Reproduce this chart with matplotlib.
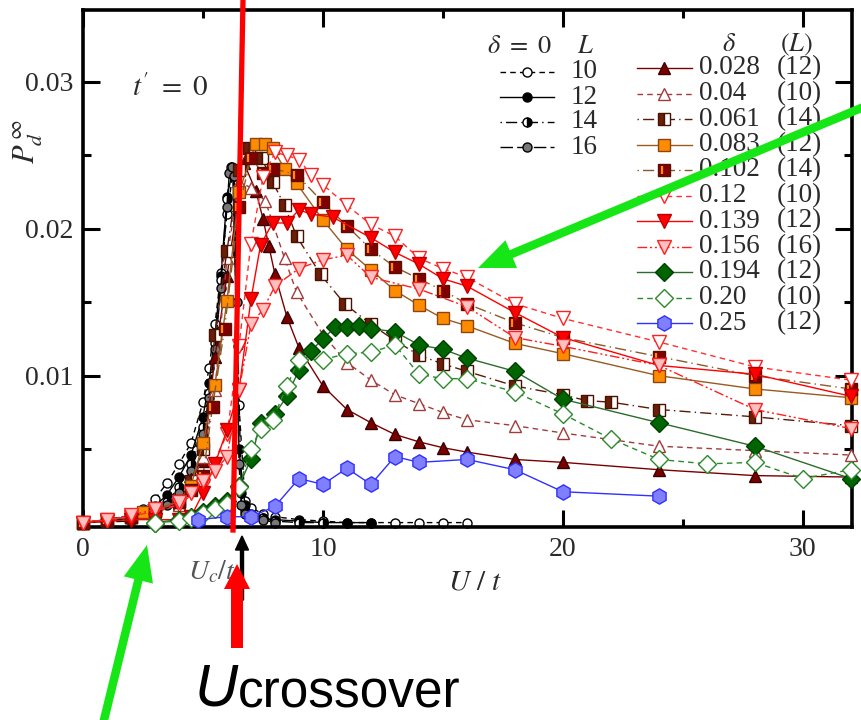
import matplotlib
matplotlib.use('Agg')
import matplotlib.pyplot as plt
import matplotlib.transforms as mtransforms
from matplotlib.lines import Line2D
from matplotlib.patches import FancyArrow

plt.rcParams['font.family'] = 'Liberation Serif'
plt.rcParams['mathtext.fontset'] = 'stix'

# ---- pair amplitude P_d^inf vs U/t ----
# delta = 0, clean system, several lattice sizes
u_L10 = [0, 1, 2, 2.5, 3, 3.5, 4, 4.5, 5, 5.25, 5.5, 5.75, 6, 6.25, 6.5, 6.75, 7, 7.5, 8, 9, 10, 11, 12, 13, 14, 15, 16]
p_L10 = [0, 0.0002, 0.0005, 0.0009, 0.0016, 0.0027, 0.0040, 0.0054, 0.0082, 0.0105, 0.0135, 0.0170, 0.0210, 0.0238, 0.0080, 0.0015, 0.0010, 0.0006, 0.0004, 0.0002, 0.0001, 0, 0, 0, 0, 0, 0]
u_L12 = [0, 1, 2, 3, 3.5, 4, 4.5, 5, 5.25, 5.5, 5.75, 6, 6.25, 6.5, 6.75, 7, 7.5, 8, 9, 10, 11, 12]
p_L12 = [0, 0.0001, 0.0003, 0.0011, 0.0019, 0.0031, 0.0046, 0.0072, 0.0095, 0.0128, 0.0168, 0.0222, 0.0240, 0.0050, 0.0012, 0.0006, 0.0003, 0.0002, 0.0001, 0, 0, 0]
u_L14 = [0, 2, 3, 3.5, 4, 4.5, 5, 5.25, 5.5, 5.75, 6, 6.15, 6.3, 6.45, 6.6, 6.75, 7, 7.5, 8, 9, 10]
p_L14 = [0, 0.0002, 0.0008, 0.0014, 0.0024, 0.0040, 0.0065, 0.0088, 0.0122, 0.0165, 0.0220, 0.0242, 0.0236, 0.0120, 0.0020, 0.0008, 0.0005, 0.0003, 0.0001, 0, 0]
u_L16 = [0, 2, 3, 3.5, 4, 4.5, 5, 5.25, 5.5, 5.75, 6, 6.1, 6.2, 6.3, 6.4, 6.5, 6.6, 6.75, 7, 7.5, 8]
p_L16 = [0, 0.0001, 0.0006, 0.0012, 0.0020, 0.0035, 0.0060, 0.0085, 0.0118, 0.0160, 0.0215, 0.0238, 0.0242, 0.0236, 0.0150, 0.0040, 0.0012, 0.0006, 0.0003, 0.0002, 0]
sizes_clean = ['10', '12', '14', '16']

# doped systems
u_028 = [0, 1, 2, 3, 4, 4.5, 5, 5.5, 6, 6.7, 7.2, 7.5, 7.75, 8, 8.5, 9, 10, 11, 12, 13, 14, 15, 16, 18, 20, 24, 28, 32]
p_028 = [0, 0.0002, 0.0004, 0.0007, 0.0013, 0.0030, 0.0042, 0.0113, 0.0168, 0.0245, 0.0226, 0.0207, 0.0188, 0.0169, 0.0140, 0.0119, 0.0093, 0.0077, 0.0068, 0.0060, 0.0055, 0.0051, 0.0048, 0.0043, 0.0041, 0.0036, 0.0032, 0.0031]
u_04 = [0, 1, 2, 3, 4, 4.5, 5, 5.5, 6, 6.5, 7, 7.6, 8.4, 8.9, 10, 11, 12, 13, 14, 15, 16, 18, 20, 24, 28, 32]
p_04 = [0, 0.0002, 0.0004, 0.0007, 0.0012, 0.0025, 0.0045, 0.0090, 0.0180, 0.0232, 0.0228, 0.0219, 0.0180, 0.0157, 0.0128, 0.0109, 0.0097, 0.0087, 0.0081, 0.0075, 0.0070, 0.0066, 0.0061, 0.0052, 0.0049, 0.0046]
u_061 = [0, 1, 2, 3, 4, 4.5, 5, 5.5, 6, 6.5, 6.9, 7.45, 7.9, 8.4, 8.9, 9.9, 10.9, 12, 13, 14, 15, 16, 18, 20, 21, 22, 24, 28, 32]
p_061 = [0, 0.0002, 0.0004, 0.0008, 0.0014, 0.0028, 0.0050, 0.0128, 0.0185, 0.0240, 0.0255, 0.0248, 0.0232, 0.0216, 0.0195, 0.0169, 0.0149, 0.0135, 0.0124, 0.0114, 0.0108, 0.0103, 0.0093, 0.0087, 0.0083, 0.0082, 0.0077, 0.0072, 0.0066]
u_083 = [0, 1, 2, 2.5, 3, 4, 4.5, 5, 5.5, 6, 6.5, 7.2, 7.6, 7.9, 8.4, 8.9, 10, 11, 12, 13, 14, 15, 16, 18, 20, 24, 28, 32]
p_083 = [0, 0.0002, 0.0004, 0.0007, 0.0008, 0.0015, 0.0025, 0.0054, 0.0094, 0.0151, 0.0225, 0.0258, 0.0258, 0.0255, 0.0241, 0.0231, 0.0206, 0.0186, 0.0172, 0.0158, 0.0148, 0.0139, 0.0134, 0.0122, 0.0115, 0.0100, 0.0091, 0.0085]
u_102 = [0, 1, 2, 3, 4, 4.5, 5, 5.4, 5.9, 6.5, 7.0, 7.5, 7.9, 8.9, 10, 11, 12, 13, 14, 15, 16, 18, 20, 24, 28, 32]
p_102 = [0, 0.0002, 0.0004, 0.0008, 0.0015, 0.0022, 0.0032, 0.0079, 0.0132, 0.0215, 0.0248, 0.0238, 0.0241, 0.0237, 0.0218, 0.0202, 0.0186, 0.0174, 0.0166, 0.0158, 0.0149, 0.0136, 0.0126, 0.0113, 0.0100, 0.0091]
u_12 = [0, 1, 2, 3, 4, 5, 6, 6.5, 7, 7.5, 8, 8.5, 9, 9.5, 10, 11, 12, 13, 14, 15, 16, 18, 20, 24, 28, 32]
p_12 = [0, 0.0002, 0.0004, 0.0008, 0.0012, 0.0025, 0.0060, 0.0120, 0.0190, 0.0235, 0.0252, 0.0250, 0.0247, 0.0237, 0.0230, 0.0216, 0.0203, 0.0195, 0.0180, 0.0173, 0.0167, 0.0149, 0.0139, 0.0123, 0.0106, 0.0097]
u_139 = [0, 1, 2, 3, 4, 4.5, 5, 5.5, 6, 6.5, 7, 7.4, 7.9, 8.5, 9, 9.5, 10.4, 12, 13, 14, 15, 16, 18, 20, 24, 28, 32]
p_139 = [0, 0.0001, 0.0002, 0.0002, 0.0002, 0.0004, 0.0020, 0.0040, 0.0063, 0.0090, 0.0152, 0.0189, 0.0204, 0.0204, 0.0213, 0.0210, 0.0208, 0.0194, 0.0184, 0.0176, 0.0166, 0.0161, 0.0143, 0.0126, 0.0107, 0.0101, 0.0086]
u_156 = [0, 1, 2, 3, 4, 4.5, 5, 5.5, 6, 6.5, 7, 7.5, 8, 9, 10, 11, 12, 14, 16, 18, 20, 24, 28, 32]
p_156 = [0, 0.0002, 0.0005, 0.0009, 0.0014, 0.0020, 0.0028, 0.0035, 0.0045, 0.0090, 0.0135, 0.0145, 0.0161, 0.0173, 0.0179, 0.0182, 0.0167, 0.0159, 0.0147, 0.0126, 0.0120, 0.0107, 0.0077, 0.0064]
u_194 = [3, 4, 4.5, 5, 5.5, 6, 6.5, 7, 7.4, 8, 8.5, 9, 9.5, 10, 10.5, 11, 11.5, 12, 13, 14, 15, 16, 18, 20, 24, 28, 32]
p_194 = [0, 0.0002, 0.0004, 0.0007, 0.0011, 0.0015, 0.0025, 0.0043, 0.0068, 0.0074, 0.0086, 0.0104, 0.0117, 0.0125, 0.0133, 0.0133, 0.0134, 0.0132, 0.0130, 0.0121, 0.0118, 0.0112, 0.0103, 0.0084, 0.0068, 0.0052, 0.0030]
u_20 = [3, 4, 4.5, 5, 5.5, 6, 6.5, 7, 7.4, 7.9, 8.5, 9, 10, 11, 12, 13, 14, 15, 16, 18, 20, 22, 24, 26, 28, 30, 32]
p_20 = [0, 0.0001, 0.0003, 0.0006, 0.0009, 0.0013, 0.0024, 0.0050, 0.0064, 0.0070, 0.0093, 0.0111, 0.0111, 0.0115, 0.0116, 0.0121, 0.0101, 0.0098, 0.0098, 0.0089, 0.0074, 0.0057, 0.0043, 0.0040, 0.0041, 0.0030, 0.0036]
u_25 = [4.8, 6, 7, 8, 9, 10, 11, 12, 13, 14, 16, 18, 20, 24]
p_25 = [0.0002, 0.0004, 0.0004, 0.0011, 0.0030, 0.0026, 0.0037, 0.0026, 0.0045, 0.0041, 0.0043, 0.0036, 0.0021, 0.0018]
deltas = ['0.028', '0.04', '0.061', '0.083', '0.102', '0.12', '0.139', '0.156', '0.194', '0.20', '0.25']
sizes_doped = ['(12)', '(10)', '(14)', '(12)', '(14)', '(10)', '(12)', '(16)', '(12)', '(10)', '(12)']

clean = [
    (u_L10, p_L10, dict(color='k', ls=(0, (4, 3)), marker='o', ms=6.5, mfc='white', mec='k')),
    (u_L12, p_L12, dict(color='k', ls='-', marker='o', ms=6.5, mfc='k', mec='k')),
    (u_L14, p_L14, dict(color='k', ls=(0, (1, 3, 8, 3)), marker='o', ms=6.5, mfc='k', mec='k',
                        fillstyle='right', markerfacecoloralt='white')),
    (u_L16, p_L16, dict(color='k', ls=(0, (9, 3)), marker='o', ms=6.5, mfc='#777777', mec='k')),
]
doped = [
    (u_028, p_028, dict(color='#7a0000', ls='-', marker='^', ms=9, mfc='#7a0000', mec='#3a0000')),
    (u_04, p_04, dict(color='#a03c3c', ls=(0, (4, 3)), marker='^', ms=9, mfc='white', mec='#a03c3c')),
    (u_061, p_061, dict(color='#5a1a08', ls=(0, (1, 3, 8, 3)), marker='s', ms=8, mfc='#6a2008', mec='#4a1000',
                        fillstyle='left', markerfacecoloralt='white')),
    (u_083, p_083, dict(color='#9a5a20', ls='-', marker='s', ms=8, mfc='#ff8c00', mec='#8b4513')),
    (u_102, p_102, dict(color='#8b5a2b', ls=(0, (1, 3, 8, 3)), marker='s', ms=8, mfc='#800000', mec='#5a1000')),
    (u_12, p_12, dict(color='#ff3030', ls=(0, (4, 3)), marker='v', ms=10, mfc='white', mec='#ff2020')),
    (u_139, p_139, dict(color='#ff0000', ls='-', marker='v', ms=10, mfc='#ff0000', mec='#c00000')),
    (u_156, p_156, dict(color='#ff2020', ls=(0, (7, 2, 1.5, 2, 1.5, 2)), marker='v', ms=10, mfc='#ffc0c0', mec='#ff2020')),
    (u_194, p_194, dict(color='#2e6b2e', ls='-', marker='D', ms=9.5, mfc='#006400', mec='#004000')),
    (u_20, p_20, dict(color='#2a8a2a', ls=(0, (4, 3)), marker='D', ms=9.5, mfc='white', mec='#2a8a2a')),
    (u_25, p_25, dict(color='#3030ff', ls='-', marker='h', ms=11, mfc='#8080ff', mec='#3030ff')),
]

W, H = 862, 720
fig = plt.figure(figsize=(W / 100, H / 100), dpi=100)
ax = fig.add_axes([83 / W, 1 - 527 / H, 769 / W, 517 / H])


def apx(x, y):
    # pixel position -> axes fraction
    return (x - 83) / 769.0, (527 - y) / 517.0


def inch(x, y):
    # pixel position -> figure inches (origin bottom-left)
    return x / 100.0, (H - y) / 100.0


stripe_data = mtransforms.offset_copy(ax.transData, fig=fig, x=-2.5, y=0, units='dots')
stripe_axes = mtransforms.offset_copy(ax.transAxes, fig=fig, x=-2.5, y=0, units='dots')

for u, p, st in clean:
    ax.plot(u, p, lw=1.0, mew=1.0, clip_on=False, zorder=2, **st)
for i, (u, p, st) in enumerate(doped):
    ax.plot(u, p, lw=1.0, mew=1.0, clip_on=False, zorder=3, **st)
    if deltas[i] == '0.102':
        ax.plot(u, p, ls='none', marker='|', ms=6, mew=1.6, color='#ff8c00',
                transform=stripe_data, clip_on=False, zorder=3)

ax.set_xlim(0, 32.05)
ax.set_ylim(-0.0003, 0.0349)
ax.set_xticks([0, 10, 20, 30])
ax.set_xticks([5, 15, 25], minor=True)
ax.set_yticks([0.01, 0.02, 0.03])
ax.set_yticklabels(['0.01', '0.02', '0.03'])
ax.set_yticks([0.005, 0.015, 0.025], minor=True)
ax.tick_params(which='both', direction='in', top=True, right=True, width=2.2,
               labelsize=20, labelcolor='#2a2a2a')
ax.tick_params(which='major', length=12, pad=7)
ax.tick_params(which='minor', length=6)
for s in ax.spines.values():
    s.set_linewidth(2.6)

# legend for delta = 0
tc = '#2a2a2a'
ax.text(*apx(520, 47), r'$\delta\ =\ 0$', fontsize=19, color=tc, ha='center', va='center', transform=ax.transAxes)
ax.text(*apx(585, 47), r'$L$', fontsize=19, color=tc, ha='center', va='center', transform=ax.transAxes)
for i, (u, p, st) in enumerate(clean):
    y = 72 + 25 * i
    x0, ya = apx(500, y)
    xm, _ = apx(527, y)
    x1, _ = apx(554, y)
    ax.plot([x0, xm, x1], [ya] * 3, markevery=[1], lw=1.0, mew=1.0, transform=ax.transAxes, **st)
    ax.text(*apx(571, y), sizes_clean[i], fontsize=19.5, color=tc, va='center', transform=ax.transAxes)

# legend for doped systems
ax.text(*apx(729, 45), r'$\delta$', fontsize=19, color=tc, ha='center', va='center', transform=ax.transAxes)
ax.text(*apx(796, 45), r'$(L)$', fontsize=19, color=tc, ha='center', va='center', transform=ax.transAxes)
for i, (u, p, st) in enumerate(doped):
    y = 68 + 25.5 * i
    x0, ya = apx(637, y)
    xm, _ = apx(664, y)
    x1, _ = apx(692, y)
    ax.plot([x0, xm, x1], [ya] * 3, markevery=[1], lw=1.0, mew=1.0, transform=ax.transAxes, **st)
    if deltas[i] == '0.102':
        ax.plot([xm], [ya], ls='none', marker='|', ms=6, mew=1.6, color='#ff8c00', transform=stripe_axes)
    ax.text(*apx(699, y), deltas[i], fontsize=19.5, color=tc, va='center', transform=ax.transAxes)
    ax.text(*apx(777, y), sizes_doped[i], fontsize=19.5, color=tc, va='center', transform=ax.transAxes)

ax.text(*apx(170, 88), r"$t'\ =\ 0$", fontsize=21, color=tc, ha='center', va='center', transform=ax.transAxes)
fig.text(28 / W, 1 - 142 / H, r'$P_d^{\,\infty}$', fontsize=22, color=tc, rotation=90, ha='center', va='center')
fig.text(475 / W, 1 - 583 / H, r'$U\ /\ t$', fontsize=21, color=tc, ha='center', va='center')
fig.text(212 / W, 1 - 572 / H, r'$U_c/t$', fontsize=20, color='#555555', ha='center', va='center')

# U_c marker below the axis
bx, by = inch(242, 600)
fig.add_artist(FancyArrow(bx, by, 0, 0.64, width=0.03, head_width=0.13, head_length=0.14,
                          length_includes_head=True, color='k', transform=fig.dpi_scale_trans))

# crossover line and arrow
lx0, ly0 = inch(243, 0)
lx1, ly1 = inch(233, 530)
fig.add_artist(Line2D([lx0, lx1], [ly0, ly1], color='#ff0000', lw=3.8, transform=fig.dpi_scale_trans, zorder=10))
rx, ry = inch(237, 648)
fig.add_artist(FancyArrow(rx, ry, 0, 0.84, width=0.12, head_width=0.26, head_length=0.25,
                          length_includes_head=True, color='#ff0000', lw=0,
                          transform=fig.dpi_scale_trans, zorder=10))
fig.text(195 / W, 1 - 705 / H, 'U', fontsize=43, family='Liberation Sans', style='italic',
         va='baseline', ha='left')
fig.text(238 / W, 1 - 708 / H, 'crossover', fontsize=37, family='Liberation Sans',
         va='baseline', ha='left')

# green pointers
gx, gy = inch(866, 106)
tx, ty = inch(478, 268)
fig.add_artist(FancyArrow(gx, gy, tx - gx, ty - gy, width=0.085, head_width=0.30, head_length=0.36,
                          length_includes_head=True, color='#16e616', lw=0,
                          transform=fig.dpi_scale_trans, zorder=11))
gx, gy = inch(103, 724)
tx, ty = inch(147, 545)
fig.add_artist(FancyArrow(gx, gy, tx - gx, ty - gy, width=0.085, head_width=0.30, head_length=0.36,
                          length_includes_head=True, color='#16e616', lw=0,
                          transform=fig.dpi_scale_trans, zorder=11))

fig.savefig('out.png', dpi=100)
